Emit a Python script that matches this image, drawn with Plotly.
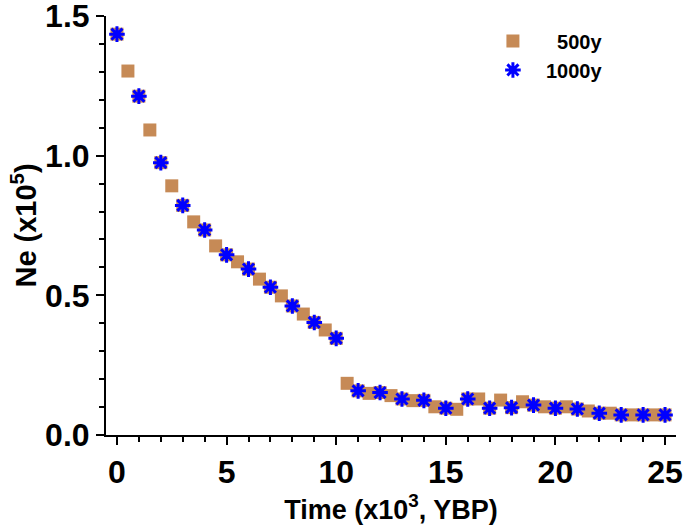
import plotly.graph_objects as go

# Data (Time in x10^3 YBP, Ne in x10^5)
t_500 = [0, 0.5, 1, 1.5, 2, 2.5, 3, 3.5, 4, 4.5, 5, 5.5, 6, 6.5, 7, 7.5, 8, 8.5, 9, 9.5, 10,
         10.5, 11, 11.5, 12, 12.5, 13, 13.5, 14, 14.5, 15, 15.5, 16, 16.5, 17, 17.5, 18, 18.5,
         19, 19.5, 20, 20.5, 21, 21.5, 22, 22.5, 23, 23.5, 24, 24.5, 25]
ne_500 = [1.435, 1.303, 1.213, 1.092, 0.975, 0.892, 0.822, 0.763, 0.734, 0.677, 0.645, 0.620,
          0.594, 0.558, 0.529, 0.498, 0.462, 0.433, 0.403, 0.376, 0.346,
          0.185, 0.158, 0.149, 0.152, 0.141, 0.129, 0.123, 0.124, 0.101, 0.096, 0.092,
          0.129, 0.129, 0.096, 0.125, 0.098, 0.119, 0.107, 0.101, 0.096, 0.101, 0.093,
          0.086, 0.078, 0.078, 0.072, 0.072, 0.072, 0.072, 0.072]

t_1000 = [0, 1, 2, 3, 4, 5, 6, 7, 8, 9, 10, 11, 12, 13, 14, 15, 16, 17, 18, 19, 20, 21, 22,
          23, 24, 25]
ne_1000 = [1.435, 1.213, 0.975, 0.822, 0.734, 0.645, 0.594, 0.529, 0.462, 0.403, 0.346,
           0.158, 0.152, 0.129, 0.124, 0.096, 0.129, 0.096, 0.098, 0.107, 0.096, 0.093,
           0.078, 0.072, 0.072, 0.072]

x_ticks = [0, 5, 10, 15, 20, 25]
y_ticks = [0.0, 0.5, 1.0, 1.5]

FONT = "Liberation Sans, Arial, sans-serif"

fig = go.Figure()
fig.add_trace(go.Scatter(
    x=t_500, y=ne_500, mode="markers", name="\u00a0\u00a0500y",
    marker=dict(symbol="square", size=13, color="#C68A56", line=dict(width=0)),
    cliponaxis=False,
))
fig.add_trace(go.Scatter(
    x=t_1000, y=ne_1000, mode="markers", name="1000y",
    marker=dict(symbol="asterisk-open", size=13, color="#0000FF",
                line=dict(width=3, color="#0000FF")),
    cliponaxis=False,
))

axis_common = dict(
    showgrid=False, zeroline=False, showline=True, linecolor="black", linewidth=2,
    ticks="outside", ticklen=8, tickwidth=2, tickcolor="black", automargin=False,
    ticklabeloverflow="allow",
    tickfont=dict(family=FONT, size=32, color="black", weight="bold"),
)

fig.update_xaxes(
    range=[-0.5, 25.5], tickvals=x_ticks, ticktext=[str(v) for v in x_ticks],
    minor=dict(dtick=1, tick0=0, ticks="outside", ticklen=5, tickwidth=2, tickcolor="black"),
    title=dict(text="Time (x10<sup>3</sup>, YBP)",
               font=dict(family=FONT, size=27, color="black", weight="bold"), standoff=0),
    **axis_common,
)
fig.update_yaxes(
    range=[0, 1.5], tickvals=y_ticks, ticktext=[f"{v:.1f}" for v in y_ticks],
    minor=dict(dtick=0.1, tick0=0, ticks="outside", ticklen=5, tickwidth=2, tickcolor="black"),
    title=dict(text="Ne (x10<sup>5</sup>)",
               font=dict(family=FONT, size=29, color="black", weight="bold"), standoff=0),
    **axis_common,
)

fig.update_layout(
    width=685, height=525,
    margin=dict(l=106, r=9, t=16, b=90, autoexpand=False),
    plot_bgcolor="white", paper_bgcolor="white",
    showlegend=True,
    legend=dict(x=0.656, y=0.987, xanchor="left", yanchor="top",
                bgcolor="rgba(0,0,0,0)", tracegroupgap=10,
                font=dict(family=FONT, size=20, color="black", weight="bold"),
                itemwidth=56),
)

fig.write_html("out.html", config={"displayModeBar": False},
               post_script="document.body.style.margin='0';")
